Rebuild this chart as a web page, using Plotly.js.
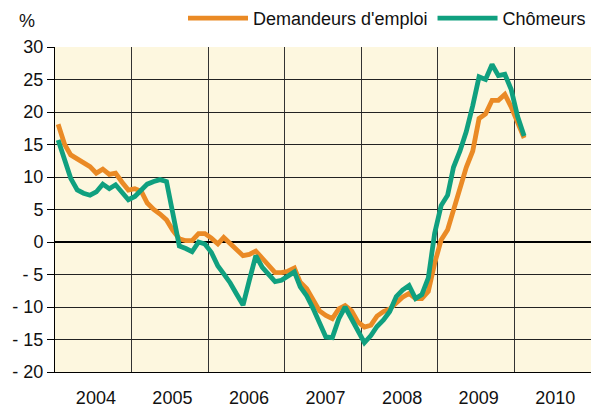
<!DOCTYPE html>
<html><head><meta charset="utf-8">
<script src="https://cdn.plot.ly/plotly-3.0.1.min.js"></script>
<style>html,body{margin:0;padding:0;background:#fff}#chart{width:591px;height:408px}</style>
</head><body><div id="chart"></div>
<script>
const startYear = 2004;
// Monthly year-on-year change (%), Jan 2004 - Feb 2010
const demandeurs = [
  18.1, 15.0, 13.4, 12.8, 12.2, 11.6, 10.6, 11.2, 10.4, 10.6, 9.2, 8.0,
  8.2, 7.8, 6.0, 5.0, 4.3, 3.4, 1.8, 0.5, 0.2, 0.2, 1.3, 1.3,
  0.6, -0.3, 0.7, -0.2, -1.0, -2.1, -1.9, -1.4, -2.5, -3.5, -4.7, -4.7,
  -4.5, -4.0, -6.2, -7.2, -9.0, -10.6, -11.3, -11.8, -10.3, -9.8, -10.6, -12.3,
  -13.1, -12.8, -11.4, -10.7, -10.3, -9.3, -8.5, -7.9, -8.7, -8.7, -7.6, -3.3,
  0.3, 1.9, 5.0, 8.1, 11.5, 14.0, 19.0, 19.7, 21.8, 21.8, 22.7, 20.8,
  18.4, 16.0
];
const chomeurs = [
  15.7, 12.4, 9.8, 8.0, 7.5, 7.2, 7.7, 8.9, 8.2, 8.8, 7.6, 6.5,
  7.0, 8.1, 8.9, 9.3, 9.6, 9.3, 4.0, -0.6, -1.0, -1.5, 0.0, -0.3,
  -1.6, -3.7, -4.9, -6.3, -8.0, -9.7, -5.9, -2.1, -3.9, -5.1, -6.1, -5.9,
  -5.3, -4.6, -6.9, -8.3, -10.2, -12.4, -14.6, -14.7, -11.8, -10.0, -11.8, -13.8,
  -15.5, -14.4, -13.0, -12.0, -10.7, -8.4, -7.4, -6.7, -8.7, -8.1, -5.5, 1.3,
  5.6, 7.2, 11.5, 14.0, 17.0, 21.0, 25.4, 25.0, 27.3, 25.6, 25.8, 23.5,
  19.3, 16.3
];
const seriesNames = ["Demandeurs d'emploi", "Chômeurs"];
const yearLabels = ['2004','2005','2006','2007','2008','2009','2010'];
const yTicks = [-20,-15,-10,-5,0,5,10,15,20,25,30];
const yTickText = ['- 20','- 15','- 10','- 5','0','5','10','15','20','25','30'];

function monthDates(n){
  const out=[];
  for(let i=0;i<n;i++){
    const y=startYear+Math.floor(i/12), m=i%12+1;
    out.push(y+'-'+String(m).padStart(2,'0')+'-16');
  }
  return out;
}
const font = {family:'Arial, "Liberation Sans", sans-serif', size:18, color:'#111'};

const traces = [
  {x: monthDates(demandeurs.length), y: demandeurs, name: seriesNames[0], type:'scatter', mode:'lines',
   line:{color:'#EA8A25', width:4.8}},
  {x: monthDates(chomeurs.length), y: chomeurs, name: seriesNames[1], type:'scatter', mode:'lines',
   line:{color:'#10A07F', width:4.8}}
];

const layout = {
  width:591, height:408,
  margin:{l:55, r:0, t:46, b:36},
  paper_bgcolor:'#ffffff', plot_bgcolor:'#FDF7DF',
  font: font,
  showlegend:true,
  legend:{orientation:'h', x:1, xanchor:'right', y:1.03, yanchor:'bottom', itemwidth:60,
          font:font, bgcolor:'rgba(0,0,0,0)', traceorder:'normal'},
  xaxis:{type:'date', range:[startYear+'-01-01', (startYear+7)+'-01-01'],
         tickmode:'array', tickvals: yearLabels.map(y=>y+'-07-14'), ticktext: yearLabels,
         ticks:'', showgrid:false, zeroline:false, showline:true, linecolor:'#000', linewidth:1,
         ticklabelstandoff:9, tickfont:font, fixedrange:true,
         minor:{tickmode:'linear', tick0:startYear+'-01-01', dtick:'M12', showgrid:true,
                gridcolor:'#333', gridwidth:1, ticks:''}},
  yaxis:{range:[-20,30], tickmode:'array', tickvals:yTicks, ticktext:yTickText,
         showgrid:true, gridcolor:'#222', gridwidth:1,
         zeroline:true, zerolinecolor:'#000', zerolinewidth:2.5,
         showline:true, linecolor:'#000', linewidth:1,
         ticks:'outside', ticklen:7, tickcolor:'#000', tickwidth:1, tickfont:font, fixedrange:true},
  annotations:[{text:'%', xref:'paper', yref:'paper', x:-0.053, y:1.08, xanchor:'center', yanchor:'middle',
                showarrow:false, font:font}]
};
Plotly.newPlot('chart', traces, layout, {displayModeBar:false, staticPlot:true});
</script></body></html>
